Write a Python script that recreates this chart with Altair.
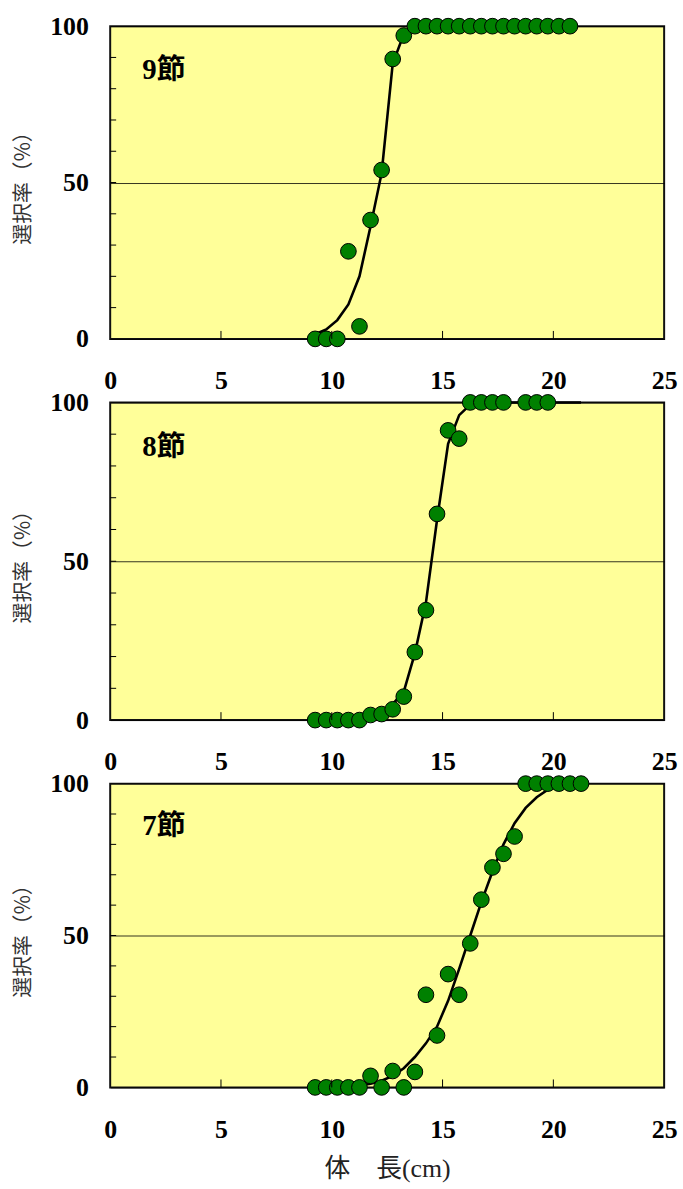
import altair as alt
import pandas as pd

# Body length classes (cm) and selection rate (%) for each joint count
LEN_9 = [9.25, 9.75, 10.25, 10.75, 11.25, 11.75, 12.25, 12.75, 13.25, 13.75,
         14.25, 14.75, 15.25, 15.75, 16.25, 16.75, 17.25, 17.75, 18.25, 18.75,
         19.25, 19.75, 20.25, 20.75]
RATE_9 = [0, 0, 0, 28, 4, 38, 54, 89.5, 97, 100,
          100, 100, 100, 100, 100, 100, 100, 100, 100, 100,
          100, 100, 100, 100]
FIT_9 = [1.5, 3, 6, 11, 20, 36, 53, 88, 97.5, 99.7,
         100, 100, 100, 100, 100, 100, 100, 100, 100, 100,
         100, 100, 100, 100]

LEN_8 = [9.25, 9.75, 10.25, 10.75, 11.25, 11.75, 12.25, 12.75, 13.25, 13.75,
         14.25, 14.75, 15.25, 15.75, 16.25, 16.75, 17.25, 17.75, 18.75, 19.25,
         19.75]
RATE_8 = [0, 0, 0, 0, 0, 1.6, 1.9, 3.4, 7.4, 21.4,
          34.6, 64.9, 91.2, 88.6, 100, 100, 100, 100, 100, 100,
          100]
FIT_LEN_8 = [9.25, 9.75, 10.25, 10.75, 11.25, 11.75, 12.25, 12.75, 13.25, 13.75,
             14.25, 14.75, 15.25, 15.75, 16.25, 16.75, 17.25, 17.75, 18.25, 18.75,
             19.25, 19.75, 20.25, 20.75, 21.25]
FIT_8 = [0, 0, 0.1, 0.2, 0.5, 1, 2.5, 5, 9, 21,
         37, 63, 87, 96, 99.3, 100, 100, 100, 100, 100,
         100, 100, 100, 100, 100]

LEN_7 = [9.25, 9.75, 10.25, 10.75, 11.25, 11.75, 12.25, 12.75, 13.25, 13.75,
         14.25, 14.75, 15.25, 15.75, 16.25, 16.75, 17.25, 17.75, 18.25, 18.75,
         19.25, 19.75, 20.25, 20.75, 21.25]
RATE_7 = [0, 0, 0, 0, 0, 3.8, 0, 5.4, 0, 5.1,
          30.5, 17.1, 37.3, 30.5, 47.4, 61.8, 72.4, 76.9, 82.6, 100,
          100, 100, 100, 100, 100]
FIT_7 = [0, 0.1, 0.2, 0.3, 0.6, 1.2, 2.2, 3.8, 6.3, 10,
         14.5, 20, 28.5, 39, 50, 61, 71, 80, 87, 92,
         95.5, 98, 99.3, 100, 100]

X_TICKS = [0, 5, 10, 15, 20, 25]
X_INNER_TICKS = [5, 10, 15, 20]
Y_TICKS = [0, 50, 100]
Y_INNER_TICKS = [10, 20, 30, 40, 50, 60, 70, 80, 90]

SERIF = "Liberation Serif, Noto Sans CJK JP"
GOTHIC = "Noto Sans CJK JP"
PLOT_W = 558


def panel(lengths, rates, fit_len, fit_rate, label, height, x_title=None):
    x_axis = dict(values=X_TICKS, grid=False, labelFlush=False, labelPadding=29,
                  labelFont="Liberation Serif", labelFontSize=26,
                  labelFontWeight="bold", labelColor="black")
    if x_title:
        x_axis.update(title=x_title, titleFont=SERIF, titleFontSize=26,
                      titleFontWeight="normal", titleColor="#222",
                      titleY=82, titleBaseline="middle")
    else:
        x_axis.update(title=None)
    x_enc = alt.X("len:Q", scale=alt.Scale(domain=[0, 25], nice=False),
                  axis=alt.Axis(**x_axis))
    y_enc = alt.Y("rate:Q", scale=alt.Scale(domain=[0, 100], nice=False),
                  axis=alt.Axis(values=Y_TICKS, grid=True, gridColor="black",
                                gridWidth=0.8, labelFlush=False, labelPadding=22,
                                labelFont="Liberation Serif", labelFontSize=26,
                                labelFontWeight="bold", labelColor="black",
                                title="選択率（%）", titleFont=GOTHIC,
                                titleFontSize=21, titleFontWeight="normal",
                                titleColor="#333", titleX=-87, titleY=height / 2,
                                titleAlign="center", titleBaseline="middle"))

    fit = alt.Chart(pd.DataFrame({"len": fit_len, "rate": fit_rate})).mark_line(
        color="black", strokeWidth=2.6).encode(x=x_enc, y=y_enc)

    pts = alt.Chart(pd.DataFrame({"len": lengths, "rate": rates})).mark_circle(
        size=250, color="#008000", opacity=1, stroke="black", strokeWidth=1
    ).encode(x=x_enc, y=y_enc)

    x_ticks = alt.Chart(pd.DataFrame({
        "len": X_INNER_TICKS, "rate": [0] * len(X_INNER_TICKS),
        "rate2": [0] * len(X_INNER_TICKS)})).mark_rule(
        color="black", strokeWidth=1, y2Offset=-8
    ).encode(x=x_enc, y=y_enc, y2="rate2:Q")

    y_ticks = alt.Chart(pd.DataFrame({
        "rate": Y_INNER_TICKS, "len": [0] * len(Y_INNER_TICKS),
        "len2": [0] * len(Y_INNER_TICKS)})).mark_rule(
        color="black", strokeWidth=1, x2Offset=6
    ).encode(x=x_enc, x2="len2:Q", y=y_enc)

    tag = alt.Chart(pd.DataFrame({"len": [1.45], "rate": [86], "label": [label]})).mark_text(
        font=SERIF, fontSize=29, fontWeight="bold", color="black",
        align="left", baseline="middle"
    ).encode(x=x_enc, y=y_enc, text="label:N")

    return alt.layer(fit, pts, x_ticks, y_ticks, tag).properties(
        width=PLOT_W, height=height)


p9 = panel(LEN_9, RATE_9, LEN_9, FIT_9, "9節", 315)
p8 = panel(LEN_8, RATE_8, FIT_LEN_8, FIT_8, "8節", 320)
p7 = panel(LEN_7, RATE_7, LEN_7, FIT_7, "7節", 306, x_title="体　長(cm)")

chart = alt.vconcat(p9, p8, p7, spacing=64, bounds="flush").properties(
    padding={"left": 12, "top": 8, "right": 5, "bottom": 5},
    background="white",
).configure_view(
    fill="#FFFF99", stroke="#111", strokeWidth=2
).configure_axis(
    domain=False, ticks=False, tickSize=0
)

chart.save("out.html", embed_options={"renderer": "svg", "actions": False})
